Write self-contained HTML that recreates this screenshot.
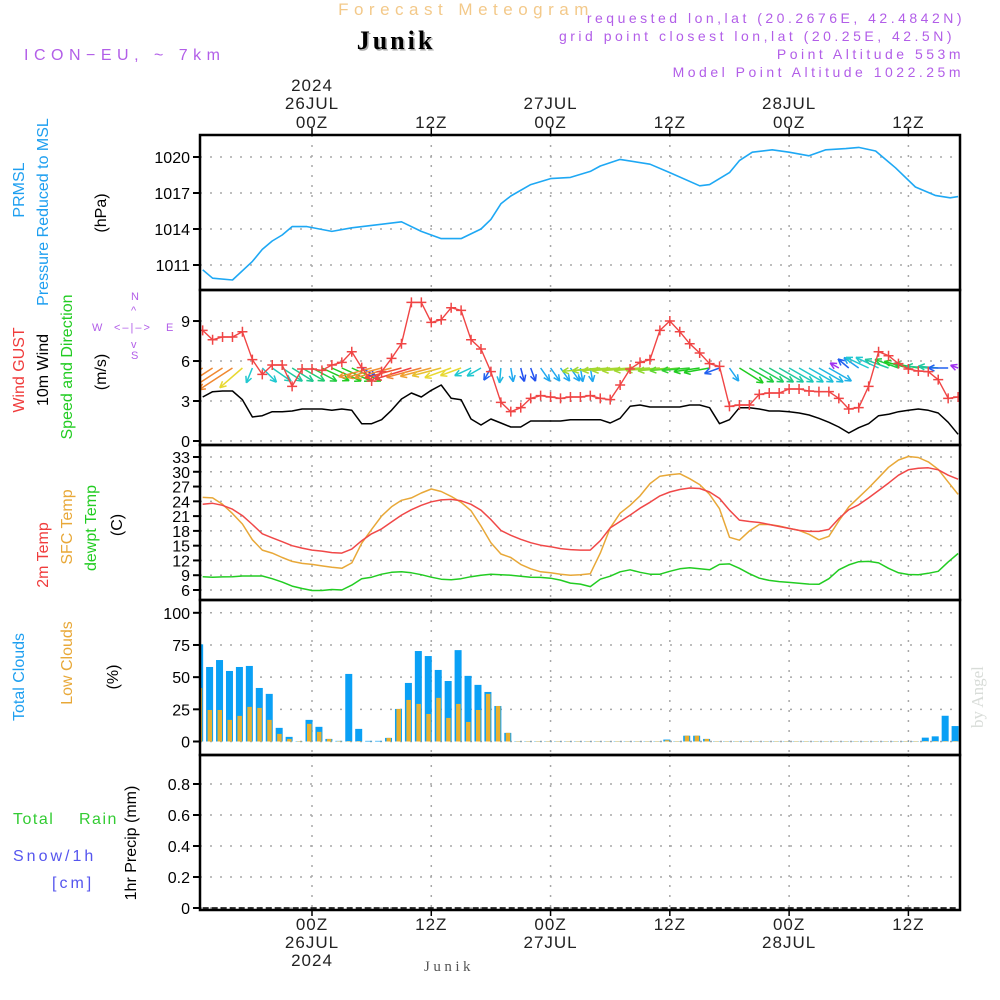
<!DOCTYPE html>
<html><head><meta charset="utf-8"><title>Meteogram Junik</title>
<style>
html,body{margin:0;padding:0;background:#fff;}
svg{display:block;}
text{font-family:"Liberation Sans",sans-serif;}
</style></head>
<body>
<svg id="chart" width="1000" height="1000" viewBox="0 0 1000 1000" xmlns="http://www.w3.org/2000/svg">
<rect width="1000" height="1000" fill="#fff"/>
<g id="hdr">
<text x="466" y="15" text-anchor="middle" font-size="17" fill="#f3c98a" letter-spacing="5.5">Forecast Meteogram</text>
<text x="396" y="49" text-anchor="middle" font-size="26" font-weight="bold" fill="#aaa" letter-spacing="3" style="font-family:'Liberation Serif',serif" transform="translate(1.5,1.5)">Junik</text>
<text x="396" y="49" text-anchor="middle" font-size="26" font-weight="bold" fill="#000" letter-spacing="3" style="font-family:'Liberation Serif',serif">Junik</text>
<text x="24" y="60" font-size="16" fill="#b25ee8" letter-spacing="5.5">ICON−EU, ~ 7km</text>
<text x="965" y="23" text-anchor="end" font-size="14" fill="#b25ee8" letter-spacing="3.5">requested lon,lat (20.2676E, 42.4842N)</text>
<text x="955" y="41" text-anchor="end" font-size="14" fill="#b25ee8" letter-spacing="3.5">grid point closest lon,lat (20.25E, 42.5N)</text>
<text x="964" y="59" text-anchor="end" font-size="14" fill="#b25ee8" letter-spacing="3.5">Point Altitude 553m</text>
<text x="964" y="77" text-anchor="end" font-size="14" fill="#b25ee8" letter-spacing="3.5">Model Point Altitude 1022.25m</text>
</g>
<g id="grid"></g>
<g id="marks"></g>
<g id="frame"></g>
<g id="labels"></g>
</svg>
<script>
// ---- data (hours relative to 26JUL 00Z) ----
const timeTickHours = [0, 12, 24, 36, 48, 60];
const timeTickLabels = ["00Z", "12Z", "00Z", "12Z", "00Z", "12Z"];
const dateLabels = ["26JUL", "", "27JUL", "", "28JUL", ""];
const yearLabels = ["2024", "", "", "", "", ""];

const presHours = [-11,-10,-8,-6,-5,-4,-3,-2,-0.5,2,4,6,9,11,13,15,17,18,19,20,22,24,26,28,29,31,34,36,39,40,42,43,44.3,46.3,48,50,51.7,53.7,55,56.7,58.7,60.7,62.7,64.2,65];
const presVals = [1010.6,1009.9,1009.75,1011.3,1012.3,1013.0,1013.5,1014.2,1014.2,1013.8,1014.1,1014.3,1014.6,1013.8,1013.2,1013.2,1014.0,1014.8,1016.1,1016.75,1017.7,1018.2,1018.3,1018.8,1019.25,1019.8,1019.4,1018.7,1017.6,1017.7,1018.7,1019.7,1020.4,1020.6,1020.4,1020.1,1020.6,1020.7,1020.8,1020.5,1019.1,1017.5,1016.8,1016.6,1016.7];
const presTicks = [1011, 1014, 1017, 1020];

const startHour = -11;
const gustVals = [8.3,7.6,7.8,7.8,8.2,6.1,5.0,5.7,5.7,4.1,5.4,5.4,5.3,5.7,5.9,6.7,5.5,4.5,5.2,6.2,7.3,10.4,10.4,8.9,9.1,10.0,9.8,7.6,6.9,5.2,2.9,2.2,2.5,3.2,3.4,3.3,3.2,3.3,3.3,3.4,3.2,3.1,4.2,5.4,5.9,6.1,8.3,9.0,8.2,7.3,6.6,5.8,5.6,2.6,2.7,2.7,3.5,3.6,3.6,3.9,3.9,3.75,3.7,3.7,3.2,2.4,2.5,4.1,6.7,6.4,5.8,5.4,5.25,5.2,4.6,3.2,3.3];
const windVals = [3.3,3.7,3.75,3.75,3.1,1.8,1.9,2.2,2.2,2.25,2.4,2.4,2.4,2.3,2.4,2.3,1.3,1.3,1.6,2.3,3.15,3.6,3.3,3.8,4.2,3.2,3.1,1.65,1.2,1.65,1.35,1.05,1.05,1.5,1.5,1.5,1.5,1.6,1.6,1.6,1.6,1.35,1.7,2.6,2.7,2.55,2.55,2.55,2.55,2.7,2.7,2.5,1.3,1.6,2.5,2.5,2.4,2.25,2.25,2.2,2.1,1.95,1.7,1.4,1.05,0.6,1.0,1.3,1.9,2.0,2.2,2.3,2.4,2.3,2.1,1.4,0.5];
const windTicks = [0, 3, 6, 9];
// arrow direction (screen degrees, 0 = pointing east, 90 = south), length and colour per hour
const arrowAngle = [147,147,147,147,139,112,45,35,33,32,30,28,25,24,24,24,30,165,165,165,165,163,165,165,165,160,160,155,150,120,95,80,75,70,55,55,55,55,80,80,175,176,176,176,176,176,176,175,175,175,172,170,160,55,32,30,30,30,30,30,30,30,30,30,210,220,215,205,205,200,200,195,190,185,185,180,200];
const arrowLen = [40,40,40,40,30,16,20,23,24,25,26,28,30,32,32,32,16,34,36,38,38,38,36,32,30,28,22,18,16,14,15,14,14,14,16,16,16,16,14,14,38,38,38,38,38,36,34,32,30,28,26,26,16,16,28,28,28,28,28,28,28,28,28,26,10,14,18,25,25,25,25,25,25,22,20,20,8];
const arrowColor = ["#f08830","#f08830","#f08830","#f08830","#e8d830","#20c8d0","#20c8d0","#20c8b8","#20c8a0","#20c890","#20cc70","#20cc40","#20cc20","#20cc20","#20cc20","#20cc20","#2040f0","#f09030","#f09030","#f09030","#f05030","#f04040","#f08030","#f0a030","#e8c030","#e8d830","#e8d830","#20c8d0","#20c8d0","#2060f0","#20b8e0","#20a8f0","#2050f0","#2050f0","#20a8f0","#20a8f0","#20a8f0","#20a8f0","#20a8f0","#20a8f0","#a0d830","#a0d830","#a8d830","#a8d830","#a8d830","#a0d830","#a0d830","#90d830","#60d830","#30d030","#20cc20","#20cc20","#2060f0","#20a8f0","#20cc20","#20cc40","#20cc60","#20c880","#20c8a0","#20c8b8","#20c8c8","#20c0d8","#20b8e0","#20b0e8","#a030f0","#2060f0","#20a0f0","#20c8d0","#20c8d0","#20c8a0","#20cc40","#20cc20","#20cc40","#20c890","#20c8a0","#2060f0","#a030f0"];

const temp2m = [23.4,23.6,23.2,22.4,21.1,19.3,17.4,16.6,15.8,15.0,14.5,14.1,13.9,13.6,13.5,14.3,16.0,17.4,18.4,19.8,21.2,22.3,23.2,23.9,24.3,24.4,24.1,23.4,22.2,20.3,18.1,17.1,16.3,15.6,15.1,14.8,14.4,14.2,14.1,14.1,16.0,18.6,19.9,21.2,22.6,23.8,25.1,25.9,26.4,26.7,26.6,25.9,24.6,22.2,20.2,19.9,19.7,19.3,18.9,18.5,18.1,17.9,17.9,18.3,20.5,22.3,23.3,24.7,26.2,27.7,29.3,30.4,30.7,30.8,30.4,29.3,28.5];
const tempSfc = [24.8,24.7,23.4,21.5,19.4,16.2,14.1,13.5,12.6,11.8,11.4,11.2,10.9,10.6,10.4,11.5,15.5,18.3,21.0,22.9,24.2,24.7,25.7,26.5,26.0,25.0,23.8,22.1,19.0,15.6,13.3,12.6,11.2,10.3,9.7,9.5,9.2,9.0,9.1,9.3,13.5,18.6,21.6,23.2,25.1,27.6,29.1,29.4,29.6,28.6,27.4,25.4,22.5,16.7,16.1,18.0,19.3,19.3,19.0,18.5,18.1,17.3,16.2,16.9,20.0,22.9,24.8,26.7,28.8,30.9,32.4,33.1,32.9,32.0,30.5,27.9,25.4];
const tempDew = [8.7,8.6,8.65,8.7,8.85,8.85,8.85,8.3,7.6,6.8,6.3,5.9,5.9,6.1,6.0,7.0,8.3,8.6,9.2,9.6,9.7,9.5,9.1,8.6,8.2,8.1,8.3,8.7,9.0,9.2,9.1,9.0,8.8,8.6,8.55,8.4,8.0,7.4,7.2,6.7,8.2,8.8,9.7,10.1,9.6,9.2,9.2,9.8,10.3,10.5,10.3,10.1,11.2,11.3,10.4,9.3,8.4,7.95,7.7,7.55,7.35,7.2,7.15,8.3,10.1,11.1,11.75,11.8,11.5,10.4,9.5,9.15,9.1,9.4,9.8,11.7,13.4];
const tempTicks = [6,9,12,15,18,21,24,27,30,33];

const cloudTotal = [75.5,57.9,63.3,54.8,57.9,58.7,41.6,37,10.6,3.6,0.3,16.8,11.4,2,0.5,52.5,9.8,0.5,0.5,2.8,25.3,45.5,70.3,66.4,55.6,47,71,51,44,38.5,27.6,6.7,0.3,0.3,0.3,0.3,0.3,0.3,0.3,0.3,0.3,0.3,0.3,0.3,0.3,0.3,0.3,1.5,0.3,4.5,4.5,2,0.3,0.3,0.3,0.3,0.3,0.3,0.3,0.3,0.3,0.3,0.3,0.3,0.3,0.3,0.3,0.3,0.3,0.3,0.3,0.3,0.3,3,4,20,12];
const cloudLow = [41.6,24.5,24.5,16.8,19.9,26.9,26.1,16.8,5.9,2,0.3,13.7,7.5,2,0.3,0.3,0.3,0,0,2.8,25.3,32.3,29.2,21.4,33.9,18.3,29.2,15.2,24.5,37,27.6,6.7,0.3,0.3,0.3,0.3,0.3,0.3,0.3,0.3,0.3,0.3,0.3,0.3,0.3,0.3,0.3,1.0,0.3,4.5,4.5,2,0.3,0.3,0.3,0.3,0.3,0.3,0.3,0.3,0.3,0.3,0.3,0.3,0.3,0.3,0.3,0.3,0.3,0.3,0.3,0.3,0.3,0.3,0.3,0.3,0.3];
const cloudTicks = [0,25,50,75,100];

const precipVals = new Array(77).fill(0);
const precipTicks = [0, 0.2, 0.4, 0.6, 0.8];
const precipTickLabels = ["0","0.2","0.4","0.6","0.8"];

// ---- scales ----
const X0 = 200, X1 = 960;
function xs(h){ return 312 + h * 9.94; }
function yPres(p){ return 265 - (p - 1011) * 12; }
function yWind(v){ return 441 - v * 13.33; }
function yTemp(t){ return 590 - (t - 6) * 4.926; }
function yCloud(c){ return 741.5 - c * 1.287; }
function yPrecip(v){ return 908 - v * 155; }

const NS = "http://www.w3.org/2000/svg";
function mk(tag, attrs, parent){
  const e = document.createElementNS(NS, tag);
  for (const k in attrs) e.setAttribute(k, attrs[k]);
  parent.appendChild(e);
  return e;
}
const gGrid = document.getElementById("grid");
const gMarks = document.getElementById("marks");
const gFrame = document.getElementById("frame");
const gLab = document.getElementById("labels");

const panels = [
  {top:135, bot:290, ticks:presTicks, labels:presTicks.map(String), f:yPres, name:"pressure"},
  {top:290, bot:445, ticks:windTicks, labels:windTicks.map(String), f:yWind, name:"wind"},
  {top:445, bot:600, ticks:tempTicks, labels:tempTicks.map(String), f:yTemp, name:"temperature"},
  {top:600, bot:755, ticks:cloudTicks, labels:cloudTicks.map(String), f:yCloud, name:"clouds"},
  {top:755, bot:910, ticks:precipTicks, labels:precipTickLabels, f:yPrecip, name:"precip"}
];

const defs = mk("defs", {}, document.getElementById("chart"));
panels.forEach((p, i) => {
  const cp = mk("clipPath", {id:"clip" + i}, defs);
  mk("rect", {x:X0, y:p.top, width:X1 - X0, height:p.bot - p.top}, cp);
});

panels.forEach((p, i) => {
  p.ticks.forEach((t, j) => {
    const y = p.f(t);
    const gl = mk("line", {x1:X0, x2:X1, y1:y, y2:y, stroke:"#a8a8a8", "stroke-width":1.5, "stroke-dasharray":"2 8"}, gGrid);
    
    
    mk("line", {x1:X0 - 7, x2:X0, y1:y, y2:y, stroke:"#000", "stroke-width":2}, gFrame);
    const tl = mk("text", {x:X0 - 10, y:y + 6, "text-anchor":"end", "font-size":16, fill:"#000"}, gLab);
    tl.textContent = p.labels[j];
    
    
  });
  timeTickHours.forEach(h => {
    const x = xs(h);
    const vl = mk("line", {x1:x, x2:x, y1:p.top, y2:p.bot, stroke:"#a8a8a8", "stroke-width":1.5, "stroke-dasharray":"2 8"}, gGrid);
    
    
  });
});

panels.forEach(p => {
  const r = mk("rect", {x:X0, y:p.top, width:X1 - X0, height:p.bot - p.top, fill:"none", stroke:"#000", "stroke-width":2.5}, gFrame);
  
  
});
timeTickHours.forEach((h, i) => {
  const x = xs(h);
  mk("line", {x1:x, x2:x, y1:128, y2:135, stroke:"#000", "stroke-width":1.5}, gFrame);
  mk("line", {x1:x, x2:x, y1:910, y2:916, stroke:"#000", "stroke-width":1.5}, gFrame);
  const t1 = mk("text", {x:x, y:128, "text-anchor":"middle", "font-size":17, fill:"#222", "letter-spacing":1}, gLab);
  t1.textContent = timeTickLabels[i];
  
  
  if (dateLabels[i]) {
    const t2 = mk("text", {x:x, y:109, "text-anchor":"middle", "font-size":17, fill:"#222", "letter-spacing":1}, gLab);
    t2.textContent = dateLabels[i];
    
    
    const b2 = mk("text", {x:x, y:948, "text-anchor":"middle", "font-size":17, fill:"#222", "letter-spacing":1}, gLab);
    b2.textContent = dateLabels[i];
    
    
  }
  if (yearLabels[i]) {
    const t3 = mk("text", {x:x, y:91, "text-anchor":"middle", "font-size":17, fill:"#222", "letter-spacing":1}, gLab);
    t3.textContent = yearLabels[i];
    
    
    const b3 = mk("text", {x:x, y:966, "text-anchor":"middle", "font-size":17, fill:"#222", "letter-spacing":1}, gLab);
    b3.textContent = yearLabels[i];
    
    
  }
  const b1 = mk("text", {x:x, y:930, "text-anchor":"middle", "font-size":17, fill:"#222", "letter-spacing":1}, gLab);
  b1.textContent = timeTickLabels[i];
  
  
});

function poly(hours, vals, f, color, width, clip, name){
  const pts = vals.map((v, i) => xs(hours[i]).toFixed(1) + "," + f(v).toFixed(1)).join(" ");
  const pl = mk("polyline", {points:pts, fill:"none", stroke:color, "stroke-width":width, "stroke-linejoin":"round", "clip-path":"url(#clip" + clip + ")"}, gMarks);
  
  
  return pl;
}
const hourly = gustVals.map((v, i) => startHour + i);

poly(presHours, presVals, yPres, "#1ea8f4", 1.6, 0, "pressure-line");

arrowAngle.forEach((a, i) => {
  const x = xs(hourly[i]), y = 368;
  const r = a * Math.PI / 180, L = arrowLen[i];
  const x2 = x + Math.cos(r) * L, y2 = y + Math.sin(r) * L;
  const g = mk("g", {stroke:arrowColor[i], "stroke-width":1.5, fill:"none", "clip-path":"url(#clip1)"}, gMarks);
  
  
  mk("line", {x1:x, y1:y, x2:x2, y2:y2}, g);
  const hl = 7;
  [r + Math.PI - 0.45, r + Math.PI + 0.45].forEach(b => {
    mk("line", {x1:x2, y1:y2, x2:x2 + Math.cos(b) * hl, y2:y2 + Math.sin(b) * hl}, g);
  });
});

poly(hourly, windVals, yWind, "#000", 1.5, 1, "wind-speed-line");
poly(hourly, gustVals, yWind, "#f04545", 1.4, 1, "wind-gust-line");
gustVals.forEach((v, i) => {
  const x = xs(hourly[i]), y = yWind(v);
  const m = mk("path", {d:`M${x-5},${y}H${x+5}M${x},${y-5}V${y+5}`, stroke:"#f04545", "stroke-width":1.5, "clip-path":"url(#clip1)"}, gMarks);
  
  
});

poly(hourly, tempDew, yTemp, "#22cc22", 1.5, 2, "dewpoint-temp-line");
poly(hourly, tempSfc, yTemp, "#e8a838", 1.5, 2, "sfc-temp-line");
poly(hourly, temp2m, yTemp, "#f04848", 1.5, 2, "2m-temp-line");

cloudTotal.forEach((c, i) => {
  const xc = xs(hourly[i]) - 3;
  const y = yCloud(c);
  const b = mk("rect", {x:xc - 3.5, y:y, width:7, height:yCloud(0) - y, fill:"#0aa0f5", "clip-path":"url(#clip3)"}, gMarks);
  
  
});
cloudLow.forEach((c, i) => {
  const xc = xs(hourly[i]) - 3;
  const y = yCloud(c);
  const b = mk("rect", {x:xc - 2, y:y, width:4.5, height:yCloud(0) - y, fill:"#e8b030", "clip-path":"url(#clip3)"}, gMarks);
  
  
});

poly(hourly, precipVals, yPrecip, "#000", 1.5, 4, "precip-line").setAttribute("stroke-dasharray", "6 3");

function vtext(x, y, str, color, size, name){
  const t = mk("text", {x:0, y:0, transform:`translate(${x},${y}) rotate(-90)`, "text-anchor":"middle", "font-size":size || 16, fill:color}, gLab);
  t.textContent = str;
  
  
  return t;
}
vtext(24, 190, "PRMSL", "#1e9ff0", 16, "prmsl-label");
vtext(48, 212, "Pressure Reduced to MSL", "#1e9ff0", 16, "pressure-title");
vtext(106, 213, "(hPa)", "#000", 16, "pressure-unit");
vtext(24, 370, "Wind GUST", "#f03c3c", 16, "gust-label");
vtext(48, 370, "10m Wind", "#000", 16, "wind-label");
vtext(72, 367, "Speed and Direction", "#22cc22", 16, "wind-direction-label");
vtext(106, 372, "(m/s)", "#000", 16, "wind-unit");
vtext(48, 555, "2m Temp", "#f03c3c", 16, "temp-2m-label");
vtext(72, 527, "SFC Temp", "#e8a838", 16, "sfc-temp-label");
vtext(96, 528, "dewpt Temp", "#22cc22", 16, "dewpt-temp-label");
vtext(122, 525, "(C)", "#000", 16, "temp-unit");
vtext(24, 677, "Total Clouds", "#1e9ff0", 16, "total-clouds-label");
vtext(72, 663, "Low Clouds", "#e8a838", 16, "low-clouds-label");
vtext(118, 677, "(%)", "#000", 16, "cloud-unit");
vtext(136, 843, "1hr Precip (mm)", "#000", 16, "precip-title");

function htext(x, y, str, color, size, name, extra){
  const t = mk("text", Object.assign({x:x, y:y, "font-size":size, fill:color}, extra || {}), gLab);
  t.textContent = str;
  
  
  return t;
}
htext(13, 824, "Total", "#33cc33", 16, "total-rain-label", {"letter-spacing":1.5});
htext(79, 824, "Rain", "#33cc33", 16, "rain-label", {"letter-spacing":1.5});
htext(13, 861, "Snow/1h", "#5555ee", 16, "snow-label", {"letter-spacing":3});
htext(52, 888, "[cm]", "#5555ee", 16, "snow-unit", {"letter-spacing":3});

htext(92, 331, "W", "#b25ee8", 11, "compass-west");
htext(166, 331, "E", "#b25ee8", 11, "compass-east");
htext(131, 300, "N", "#b25ee8", 11, "compass-north");
htext(131, 359, "S", "#b25ee8", 11, "compass-south");
htext(114, 331, "<–|–>", "#b25ee8", 11, "compass-arrows-h", {"letter-spacing":2});
htext(131, 314, "^", "#b25ee8", 11, "compass-north-arrow");
htext(131, 348, "v", "#b25ee8", 11, "compass-south-arrow");

htext(424, 971, "Junik", "#555", 15, "footer-location", {style:"font-family:'Liberation Serif',serif", "letter-spacing":3.5});
htext(0, 0, "by Angel", "#d8dcd8", 17, "credit-watermark", {style:"font-family:'Liberation Serif',serif", transform:"translate(983,728) rotate(-90)"});
</script>
</body></html>
